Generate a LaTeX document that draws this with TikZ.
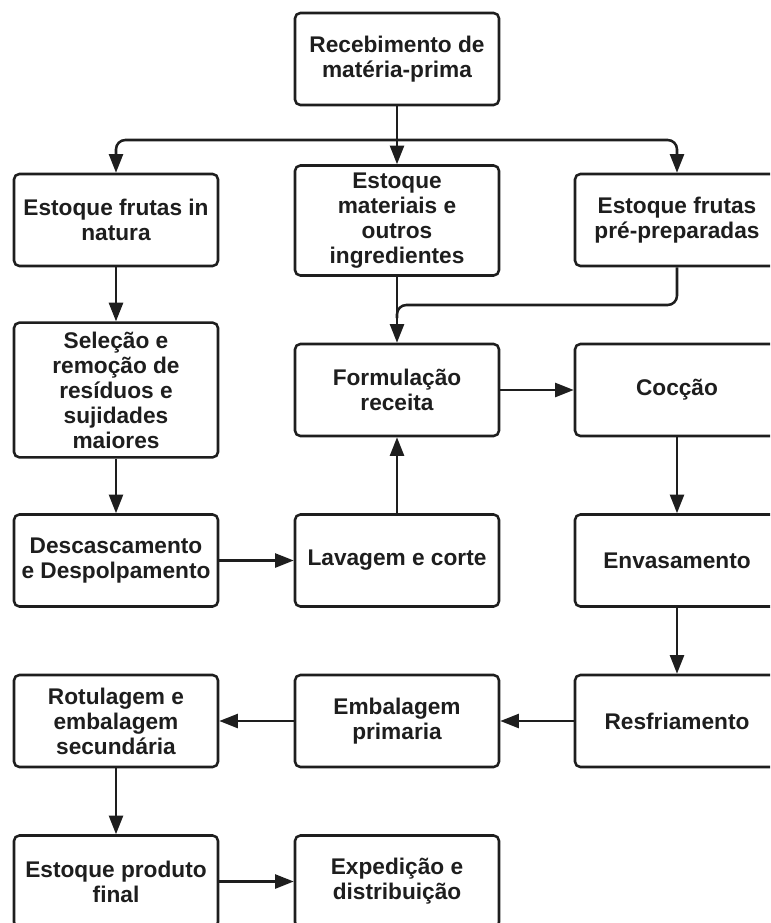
\documentclass[tikz,border=0pt]{standalone}
\usepackage{fontspec}
\setmainfont{Liberation Sans}
\usetikzlibrary{arrows.meta,calc}
\definecolor{ink}{HTML}{1E1E1E}
\tikzset{
  stepbox/.style={draw=ink, line width=1.9pt, rounded corners=4pt, fill=white,
    minimum width=153pt, minimum height=69pt, align=center, inner sep=2pt,
    text=ink, font=\bfseries\fontsize{17pt}{18.75pt}\selectfont},
  flow/.style={draw=ink, line width=1.9pt, -{Triangle[length=14pt,width=10.5pt]}},
  link/.style={draw=ink, line width=1.9pt}
}
\begin{document}
\begin{tikzpicture}[x=0.75pt,y=-0.75pt]
\useasboundingbox (0,0) rectangle (770,923);
\clip (0,0) rectangle (770,923);

% boxes
\node[stepbox] (rec) at (397,59) {Recebimento de\\matéria-prima};
\node[stepbox] (nat) at (116,220) {Estoque frutas in\\natura};
\node[stepbox, minimum height=82.5pt] (mat) at (397,220.5) {Estoque\\materiais e\\outros\\ingredientes};
\node[stepbox] (pre) at (677,220) {Estoque frutas\\pré-preparadas};
\node[stepbox, minimum height=101pt] (sel) at (116,390) {Seleção e\\remoção de\\resíduos e\\sujidades\\maiores};
\node[stepbox] (form) at (397,390) {Formulação\\receita};
\node[stepbox] (coc) at (677,390) {Cocção};
\node[stepbox] (desc) at (116,560.5) {Descascamento\\e Despolpamento};
\node[stepbox] (lav) at (397,560.5) {Lavagem e corte};
\node[stepbox] (env) at (677,560.5) {Envasamento};
\node[stepbox] (rot) at (116,721) {Rotulagem e\\embalagem\\secundária};
\node[stepbox] (emb) at (397,721) {Embalagem\\primaria};
\node[stepbox] (res) at (677,721) {Resfriamento};
\node[stepbox] (fin) at (116,881.5) {Estoque produto\\final};
\node[stepbox] (exp) at (397,881.5) {Expedição e\\distribuição};

% distribution from reception
\coordinate (split) at (397,140);
\coordinate (merge) at (397,305);
\coordinate (mergeend) at (397,318);
\draw[link] (rec.south) -- (split);
\draw[flow, rounded corners=7pt] (split) -| (nat.north);
\draw[flow, rounded corners=7pt] (split) -| (pre.north);
\draw[flow] (split) -- (mat.north);

% stocks into formulation
\draw[flow] (mat.south) -- (form.north);
\draw[link, rounded corners=7pt] (pre.south) |- (merge) -- (mergeend);

% fruit preparation line
\draw[flow] (nat.south) -- (sel.north);
\draw[flow] (sel.south) -- (desc.north);
\draw[flow] (desc.east) -- (lav.west);
\draw[flow] (lav.north) -- (form.south);

% processing line
\draw[flow] (form.east) -- (coc.west);
\draw[flow] (coc.south) -- (env.north);
\draw[flow] (env.south) -- (res.north);
\draw[flow] (res.west) -- (emb.east);
\draw[flow] (emb.west) -- (rot.east);
\draw[flow] (rot.south) -- (fin.north);
\draw[flow] (fin.east) -- (exp.west);
\end{tikzpicture}
\end{document}
